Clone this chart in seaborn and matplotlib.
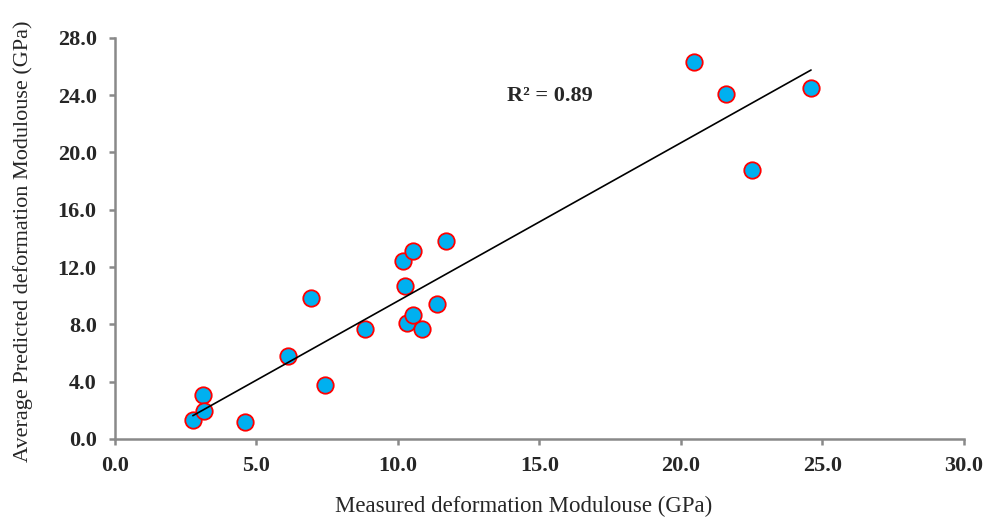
import numpy as np
import pandas as pd
import matplotlib
matplotlib.use("Agg")
import matplotlib.pyplot as plt
import seaborn as sns

measured = [2.76, 3.11, 3.16, 4.61, 6.11, 6.93, 7.43, 8.84, 10.18, 10.25,
            10.32, 10.54, 10.55, 10.85, 11.40, 11.69, 20.45, 21.60, 22.52, 24.60]
predicted = [1.33, 3.07, 1.97, 1.21, 5.81, 9.86, 3.79, 7.66, 12.40, 10.70,
             8.10, 8.63, 13.14, 7.66, 9.42, 13.82, 26.29, 24.05, 18.77, 24.52]
x_ticks = [0, 5, 10, 15, 20, 25, 30]
y_ticks = [0, 4, 8, 12, 16, 20, 24, 28]
r2_text = "R² = 0.89"
x_label = "Measured deformation Modulouse (GPa)"
y_label = "Average Predicted deformation Modulouse (GPa)"

df = pd.DataFrame({"measured": measured, "predicted": predicted})

sns.set_style("white")
plt.rcParams["font.family"] = ["Liberation Serif", "DejaVu Serif"]

fig = plt.figure(figsize=(10.03, 5.2), dpi=100)
ax = fig.add_axes([0.1144, 0.1558, 0.961 - 0.1144, 0.9275 - 0.1558])

sns.scatterplot(data=df, x="measured", y="predicted", s=140, color="#00B0F0",
                edgecolor="#FF0000", linewidth=1.3, zorder=3, ax=ax)
sns.regplot(data=df, x="measured", y="predicted", scatter=False, ci=None,
            truncate=True, color="black",
            line_kws={"linewidth": 1.2, "zorder": 4}, ax=ax)

ax.set_xlim(0, 30)
ax.set_ylim(0, 28)
ax.set_xticks(x_ticks)
ax.set_yticks(y_ticks)
ax.set_xticklabels([f"{v:.1f}" for v in x_ticks], fontsize=16, fontweight="bold")
ax.set_yticklabels([f"{v:.1f}" for v in y_ticks], fontsize=16, fontweight="bold")
ax.set_xlabel(x_label, fontsize=16.5, va="center")
ax.set_ylabel(y_label, fontsize=16, va="center")
ax.xaxis.set_label_coords(0.481, -0.167)
ax.yaxis.set_label_coords(-0.1084, 0.4925)

for s in ["top", "right"]:
    ax.spines[s].set_visible(False)
for s in ["left", "bottom"]:
    ax.spines[s].set_color("#898989")
    ax.spines[s].set_linewidth(1.8)
ax.tick_params(axis="both", direction="out", length=4, width=1.8, color="#898989",
               left=True, bottom=True)
ax.tick_params(axis="x", pad=8)
ax.tick_params(axis="y", pad=9)

ax.text(15.37, 23.9, r2_text, fontsize=16, fontweight="bold", ha="center", va="center")

fig.savefig("out.png", dpi=100)
